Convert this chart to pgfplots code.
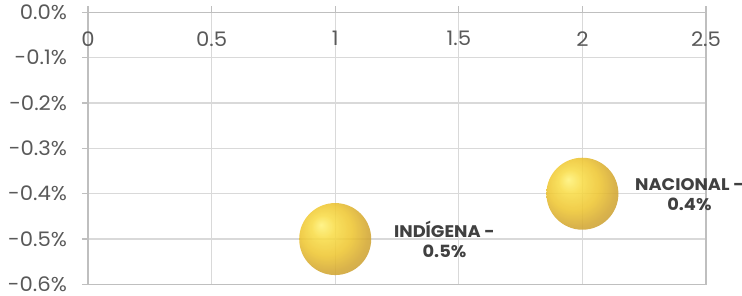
\documentclass[border=0pt]{standalone}
\usepackage{pgfplots}
\pgfplotsset{compat=1.18}
\usepackage{fontspec}
\setmainfont{Poppins}[FakeStretch=1.06]
\definecolor{gridc}{HTML}{D9D9D9}
\definecolor{axc}{HTML}{BFBFBF}
\definecolor{tickc}{HTML}{595959}
\definecolor{labc}{HTML}{404040}
\definecolor{gA}{HTML}{FFF27A}
\definecolor{gB}{HTML}{F8DC48}
\definecolor{gC}{HTML}{EEC632}
\definecolor{gD}{HTML}{D4A832}
\definecolor{gE}{HTML}{C29A38}
\definecolor{gF}{HTML}{E6C455}
\pgfdeclareradialshading{goldball}{\pgfpoint{-10bp}{10bp}}{%
  color(0bp)=(gA);
  color(8bp)=(gB);
  color(18bp)=(gC);
  color(27bp)=(gD);
  color(35bp)=(gE);
  color(50bp)=(gF)}
\pgfdeclareplotmark{goldball}{%
  \pgfpathcircle{\pgfpointorigin}{\pgfplotmarksize}%
  \pgfshadepath{goldball}{0}%
  \pgfusepath{}}
\begin{document}
\begin{tikzpicture}
\begin{axis}[
  scale only axis, width=309pt, height=136pt,
  xmin=0, xmax=2.5, ymin=-0.6, ymax=0,
  xtick={0,0.5,1,1.5,2,2.5},
  xticklabels={0,0.5,1,1.5,2,2.5},
  ytick={-0.6,-0.5,-0.4,-0.3,-0.2,-0.1,0},
  yticklabels={-0.6\%,-0.5\%,-0.4\%,-0.3\%,-0.2\%,-0.1\%,0.0\%},
  xticklabel pos=upper,
  xticklabel style={anchor=north, yshift=-9pt, font=\fontsize{10}{12}\selectfont, text=tickc},
  yticklabel style={font=\fontsize{10}{12}\selectfont, text=tickc, inner sep=0.8pt, xshift=-6.5pt},
  /pgf/number format/assume math mode=true,
  grid=major, grid style={gridc, line width=0.6pt},
  axis line style={axc, line width=0.6pt},
  tick style={axc, line width=0.6pt},
  major tick length=3pt,
  ytick pos=left, xtick pos=upper,
  tick align=outside,
  clip=false,
]
\addplot[only marks, mark=goldball, mark size=18pt,
  mark options={fill opacity=0.88}]
  coordinates {(1,-0.5) (2,-0.4)};
\node[align=center, font=\bfseries\fontsize{8.4}{10}\selectfont, text=labc] at (axis cs:1.442,-0.5007) {INDÍGENA -\\0.5\%};
\node[align=center, font=\bfseries\fontsize{8.4}{10}\selectfont, text=labc] at (axis cs:2.433,-0.402) {NACIONAL -\\0.4\%};
\coordinate (bl) at ([xshift=-44pt,yshift=-5.8pt]rel axis cs:0,0);
\coordinate (tr) at ([xshift=18pt,yshift=6.2pt]rel axis cs:1,1);
\end{axis}
\pgfresetboundingbox
\useasboundingbox (bl) rectangle (tr);
\end{tikzpicture}
\end{document}
